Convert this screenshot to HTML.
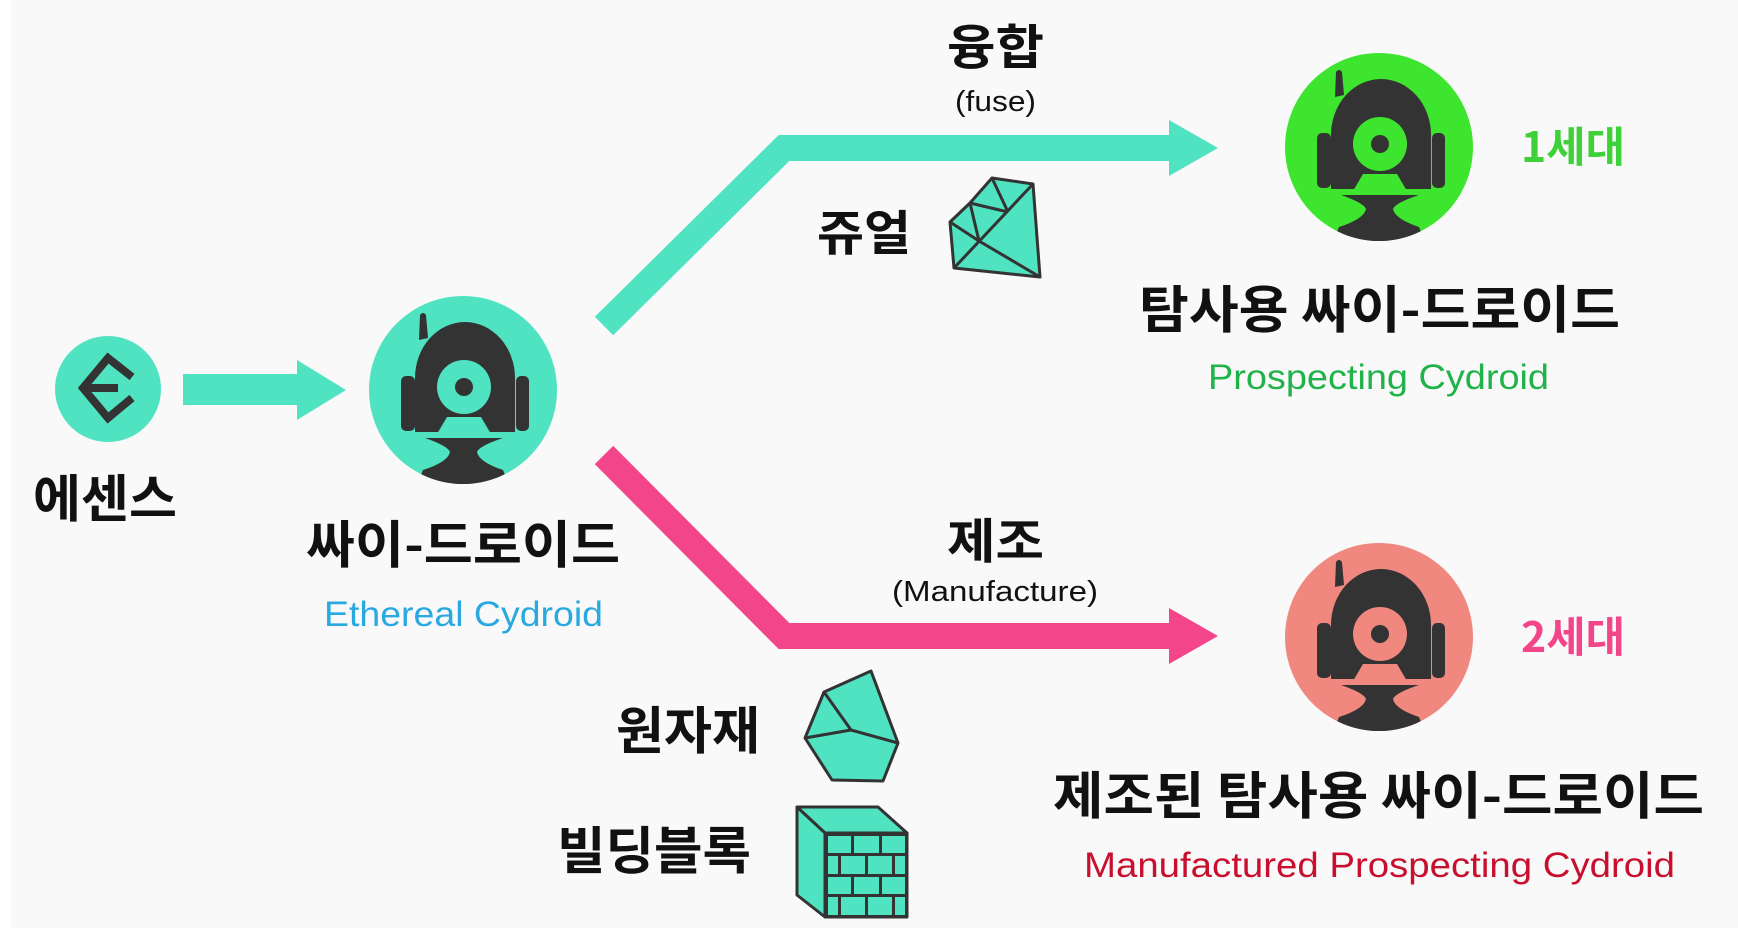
<!DOCTYPE html>
<html><head><meta charset="utf-8"><style>
html,body{margin:0;padding:0;background:#fff}
svg{display:block}
text{font-family:"Liberation Sans","Noto Sans CJK KR",sans-serif}
.k{font-family:"Noto Sans CJK KR","Liberation Sans",sans-serif;font-weight:bold;fill:#111}
</style></head><body>
<svg width="1738" height="933" viewBox="0 0 1738 933" xmlns="http://www.w3.org/2000/svg">
<defs>
<clipPath id="cc"><circle cx="0" cy="0" r="94"/></clipPath>
<g id="robot">
<g clip-path="url(#cc)">
<path d="M-43,-75 Q-40,-79 -37,-75 L-35,-52 L-44,-50 Z" fill="#333"/>
<path d="M-48,42 L-48,-12 A50,56 0 0 1 52,-12 L52,42 Z" fill="#333"/>
<rect x="-62" y="-14" width="14" height="55" rx="5" fill="#333"/>
<rect x="53" y="-14" width="13" height="55" rx="5" fill="#333"/>
<path d="M-26,44 L-16,27 L18,27 L28,44 Z" fill="var(--c)"/>
<circle cx="1" cy="-3" r="27" fill="var(--c)"/>
<circle cx="1" cy="-3" r="9" fill="#333"/>
<path d="M-38,48 L40,48 Q16,56 14,62 Q16,72 40,80 L48,100 L-48,100 L-40,80 Q-15,72 -13,62 Q-15,56 -38,48 Z" fill="#333"/>
</g>
</g>
</defs>
<rect x="11" y="0" width="1727" height="928" fill="#f9f9f9"/>

<circle cx="108" cy="389" r="53" fill="#50e3c2"/>
<path d="M132,377 L108,358 L83,388 L108,418 L132,398" fill="none" stroke="#333" stroke-width="8" stroke-linejoin="miter"/>
<path d="M86,388 L118,388" stroke="#333" stroke-width="8"/>

<polygon points="183,374 297,374 297,360 346,390 297,420 297,405 183,405" fill="#50e3c2"/>

<circle cx="463" cy="390" r="94" fill="#50e3c2"/>
<g transform="translate(463,390)" style="--c:#50e3c2"><use href="#robot"/></g>
<circle cx="1379" cy="147" r="94" fill="#3ee52f"/>
<g transform="translate(1379,147)" style="--c:#3ee52f"><use href="#robot"/></g>
<circle cx="1379" cy="637" r="94" fill="#f08880"/>
<g transform="translate(1379,637)" style="--c:#f08880"><use href="#robot"/></g>

<polyline points="604,326 784,148 1172,148" fill="none" stroke="#50e3c2" stroke-width="26" stroke-linejoin="miter"/>
<polygon points="1169,120 1218,148 1169,176" fill="#50e3c2"/>
<polyline points="604,455 784,636 1172,636" fill="none" stroke="#f3468a" stroke-width="26" stroke-linejoin="miter"/>
<polygon points="1169,608 1218,636 1169,664" fill="#f3468a"/>

<g stroke="#333" stroke-width="3" stroke-linejoin="round" fill="#50e3c2">
<polygon points="992,178 1033,184 1040,277 954,268 950,222 970,203"/>
<path d="M1033,184 L954,268 M950,222 L979,241 L1040,277 M970,203 L979,241 M970,203 L1008,212 M992,178 L1008,212" fill="none"/>
</g>
<g stroke="#333" stroke-width="3" stroke-linejoin="round" fill="#50e3c2">
<polygon points="871,671 898,743 883,781 832,780 805,738 824,692"/>
<path d="M824,692 L851,730 L805,738 M851,730 L898,743" fill="none"/>
</g>
<g stroke="#333" stroke-width="3" stroke-linejoin="round">
<polygon points="797,807 878,807 907,833 825,833" fill="#50e3c2"/>
<polygon points="797,807 825,833 825,917 797,895" fill="#50e3c2"/>
<rect x="825" y="833" width="82" height="84" fill="#333"/>
</g>
<g fill="#50e3c2">
<rect x="828" y="836" width="23" height="17"/><rect x="854" y="836" width="25" height="17"/><rect x="882" y="836" width="23" height="17"/>
<rect x="828" y="856" width="10" height="18"/><rect x="841" y="856" width="24" height="18"/><rect x="868" y="856" width="24" height="18"/><rect x="895" y="856" width="10" height="18"/>
<rect x="828" y="877" width="23" height="17"/><rect x="854" y="877" width="25" height="17"/><rect x="882" y="877" width="23" height="17"/>
<rect x="828" y="897" width="10" height="18"/><rect x="841" y="897" width="24" height="18"/><rect x="868" y="897" width="24" height="18"/><rect x="895" y="897" width="10" height="18"/>
</g>

<text class="k" x="947" y="64" font-size="48" textLength="97" lengthAdjust="spacingAndGlyphs">융합</text>
<text x="955" y="111" font-size="29" fill="#111" textLength="81" lengthAdjust="spacingAndGlyphs">(fuse)</text>
<text class="k" x="817" y="250" font-size="48" textLength="94" lengthAdjust="spacingAndGlyphs">쥬얼</text>
<text class="k" x="1521" y="162" font-size="42" style="fill:#3ed13a" textLength="104" lengthAdjust="spacingAndGlyphs">1세대</text>
<text class="k" x="1521" y="652" font-size="42" style="fill:#f3468a" textLength="104" lengthAdjust="spacingAndGlyphs">2세대</text>
<text class="k" x="1139" y="328" font-size="51" textLength="481" lengthAdjust="spacingAndGlyphs">탐사용 싸이-드로이드</text>
<text x="1208" y="389" font-size="35" fill="#1fb34a" textLength="341" lengthAdjust="spacingAndGlyphs">Prospecting Cydroid</text>
<text class="k" x="33" y="517" font-size="51" textLength="144" lengthAdjust="spacingAndGlyphs">에센스</text>
<text class="k" x="306" y="563" font-size="51" textLength="314" lengthAdjust="spacingAndGlyphs">싸이-드로이드</text>
<text x="324" y="626" font-size="35" fill="#29a9e0" textLength="279" lengthAdjust="spacingAndGlyphs">Ethereal Cydroid</text>
<text class="k" x="947" y="558" font-size="48" textLength="97" lengthAdjust="spacingAndGlyphs">제조</text>
<text x="892" y="601" font-size="29" fill="#111" textLength="206" lengthAdjust="spacingAndGlyphs">(Manufacture)</text>
<text class="k" x="616" y="749" font-size="51" textLength="144" lengthAdjust="spacingAndGlyphs">원자재</text>
<text class="k" x="557" y="869" font-size="51" textLength="194" lengthAdjust="spacingAndGlyphs">빌딩블록</text>
<text class="k" x="1053" y="814" font-size="51" textLength="651" lengthAdjust="spacingAndGlyphs">제조된 탐사용 싸이-드로이드</text>
<text x="1084" y="877" font-size="35" fill="#c8102e" textLength="591" lengthAdjust="spacingAndGlyphs">Manufactured Prospecting Cydroid</text>
</svg>
</body></html>
